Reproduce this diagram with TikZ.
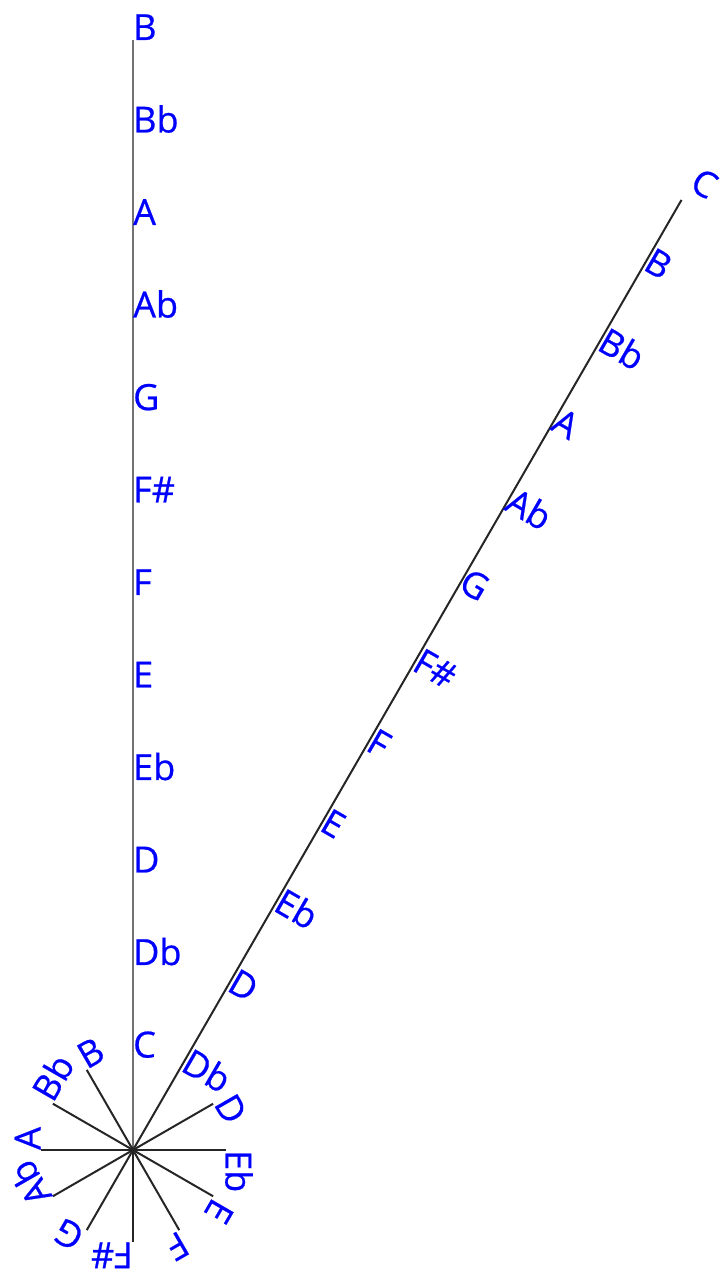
\documentclass[tikz,border=0pt]{standalone}
\usepackage{fontspec}
\setmainfont{Open Sans}
\newfontfamily\lblfont[FakeBold=0.6]{Open Sans}
\begin{document}
\begin{tikzpicture}[x=1pt,y=1pt,
  lbl/.style={text=blue, font=\lblfont\fontsize{36}{36}\selectfont, anchor=base west, inner sep=0pt},
  ray/.style={draw=black!85, line width=2pt}]
\useasboundingbox (0,0) rectangle (724,1280);
\def\u{92.5}
\coordinate (O) at (133,130);
% long vertical line
\coordinate (vend) at ([shift={(90:12*\u pt)}]O);
\draw[ray, draw=black!55, line width=2.4pt] (O) -- (vend);
\foreach \n [count=\i] in {C,Db,D,Eb,E,F,F\#,G,Ab,A,Bb,B}
  \node[lbl] (v\i) at ([shift={(90:\i*\u pt)}]O) {\n};
% long diagonal line
\coordinate (dend) at ([shift={(60:1097pt)}]O);
\draw[ray] (O) -- (dend);
\foreach \n [count=\i] in {Db,D,Eb,E,F,F\#,G,Ab,A,Bb,B,C}
  \node[lbl, rotate=-30] (d\i) at ([shift={(60:\i*\u pt)}]O) {\n};
% short star rays
\foreach \n [count=\k from 2] in {D,Eb,E,F,F\#,G,Ab,A,Bb,B} {
  \coordinate (s\k) at ([shift={(90-30*\k:\u pt)}]O);
  \draw[ray] (O) -- (s\k);
  \node[lbl, rotate=-30*\k] (t\k) at (s\k) {\n};
}
\end{tikzpicture}
\end{document}
